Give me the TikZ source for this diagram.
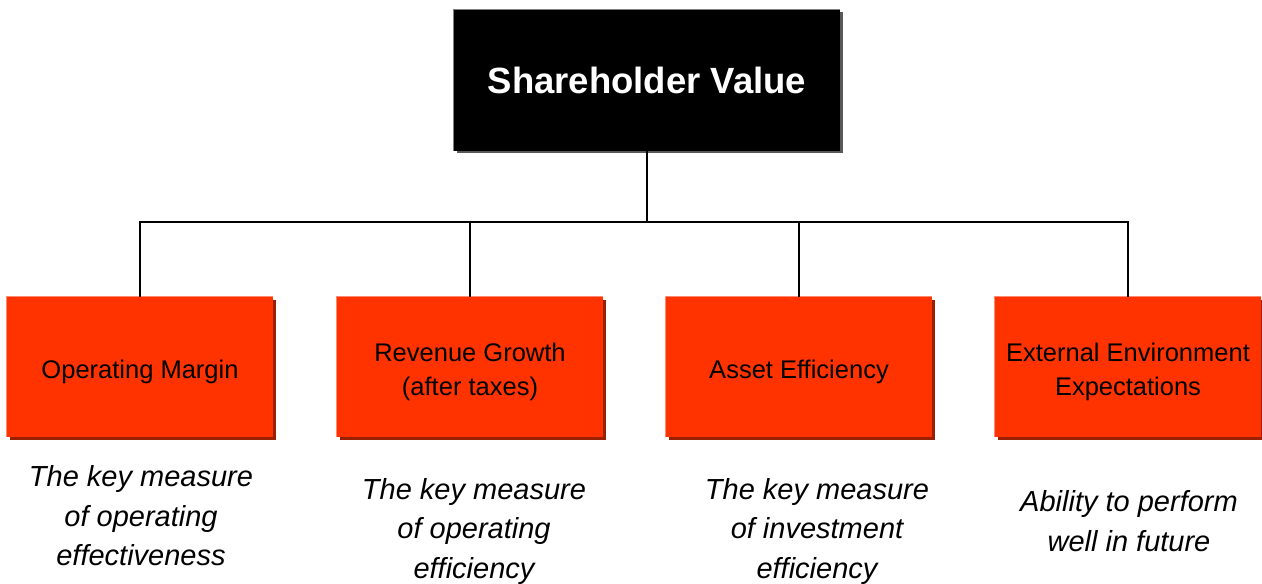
\documentclass[tikz,border=0pt]{standalone}
\usepackage{fontspec}
\setmainfont{Liberation Sans}
\definecolor{boxorange}{HTML}{FF3300}
\definecolor{boxshadow}{HTML}{992000}
\definecolor{boxlight}{HTML}{FF8A70}
\tikzset{
  x=1pt, y=-1pt,
  obox/.style={minimum width=266pt, minimum height=140pt, inner sep=0pt, fill=boxorange, align=center,
    font=\fontsize{25.5}{34}\selectfont, text=black},
  otext/.style={align=center, font=\fontsize{25.5}{34}\selectfont, text=black, inner sep=0pt},
  topbox/.style={minimum width=386pt, minimum height=141pt, inner sep=0pt, fill=black, text=white,
    font=\fontsize{36.5}{40}\selectfont\bfseries},
  desc/.style={align=center, font=\fontsize{29}{39.5}\selectfont\itshape, inner sep=0pt},
  conn/.style={line width=1.2pt, black}
}
\begin{document}
\begin{tikzpicture}
\useasboundingbox (0,0) rectangle (1262,584);
% top box
\fill[gray!70!black] (457,12) rectangle (843,153);
\node[topbox] (top) at (647,80.5) {Shareholder Value};
\draw[gray, line width=1pt] (top.south west) -- (top.north west) -- (top.north east);
% orange boxes
\foreach \cx in {140,470,799,1128}{
  \fill[boxshadow] (\cx-130,300) rectangle (\cx+136,440);
}
\node[obox] (b1) at (140,367) {};
\node[obox] (b2) at (470,367) {};
\node[obox] (b3) at (799,367) {};
\node[obox] (b4) at (1128,367) {};
\node[otext] (t1) at (140,372) {Operating Margin};
\node[otext] (t2) at (470,372) {Revenue Growth\\(after taxes)};
\node[otext] (t3) at (799,372) {Asset Efficiency};
\node[otext] (t4) at (1128,372) {External Environment\\Expectations};
\foreach \nm in {b1,b2,b3,b4}{
  \draw[boxlight, line width=1.2pt] (\nm.south west) -- (\nm.north west) -- (\nm.north east);
}
% connectors
\coordinate (bus) at (647,222);
\draw[conn] (top.south) -- (top.south |- bus);
\draw[conn] (b1.north) -- (b1.north |- bus) -- (b4.north |- bus) -- (b4.north);
\draw[conn] (b2.north) -- (b2.north |- bus);
\draw[conn] (b3.north) -- (b3.north |- bus);
% descriptions
\node[desc] (d1) at (141,516) {The key measure\\of operating\\effectiveness};
\node[desc] (d2) at (474,531) {The key measure\\of operating\\efficiency};
\node[desc] (d3) at (817,531) {The key measure\\of investment\\efficiency};
\node[desc] (d4) at (1129,521) {Ability to perform\\well in future};
\end{tikzpicture}
\end{document}
